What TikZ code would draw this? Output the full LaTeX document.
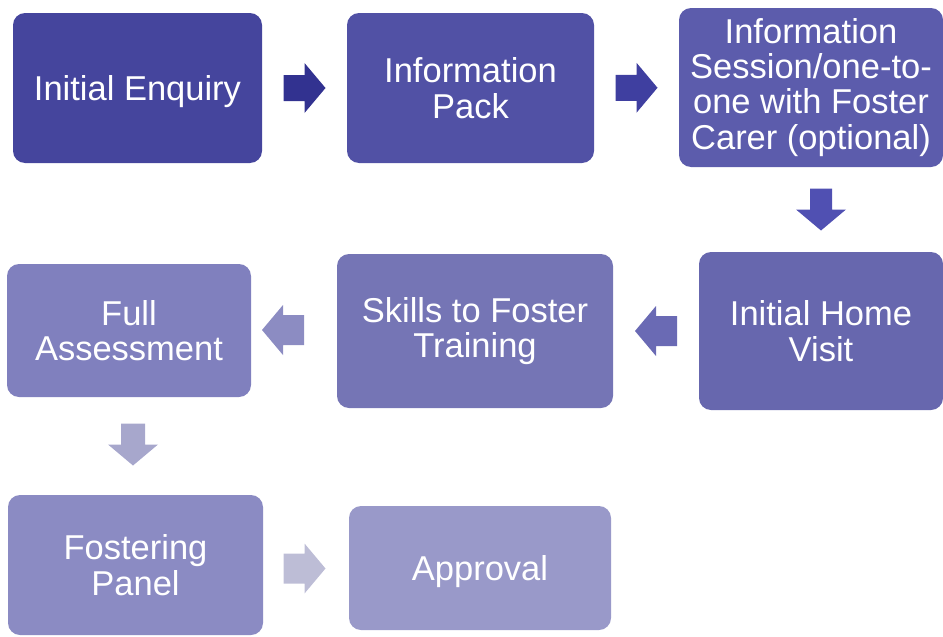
\documentclass[tikz,border=0pt]{standalone}
\usepackage{fontspec}
\setmainfont{Liberation Sans}
\usetikzlibrary{calc}

% box fills, darkest first
\definecolor{cA}{HTML}{45459D}
\definecolor{cB}{HTML}{5151A5}
\definecolor{cC}{HTML}{5C5CAC}
\definecolor{cD}{HTML}{6767AE}
\definecolor{cE}{HTML}{7575B5}
\definecolor{cF}{HTML}{8080BE}
\definecolor{cG}{HTML}{8B8BC3}
\definecolor{cH}{HTML}{9999C9}
% block arrow fills
\definecolor{aA}{HTML}{323290}
\definecolor{aB}{HTML}{3F3FA0}
\definecolor{aC}{HTML}{5050B2}
\definecolor{aD}{HTML}{6A6AB4}
\definecolor{aE}{HTML}{8C8CC2}
\definecolor{aF}{HTML}{A7A7CC}
\definecolor{aG}{HTML}{BDBDD6}

\begin{document}
\begin{tikzpicture}[x=1pt,y=-1pt,
  stage/.style={rectangle, rounded corners=12pt, fill=#1, text=white,
    inner sep=0pt, align=center,
    font=\fontsize{34.5pt}{35.5pt}\selectfont},
  oneline/.style={text depth=0pt},
  % fat arrow: #1 colour, #2 half width of the shaft
  pics/blockarrow/.style 2 args={code={
    \fill[#1] (-21,-#2) -- (0,-#2) -- (0,-25) -- (21,0) -- (0,25)
      -- (0,#2) -- (-21,#2) -- cycle;}}
]
\useasboundingbox (0,0) rectangle (943,637);

% stages
\node[stage=cA, oneline, minimum width=249pt, minimum height=150pt] (enq) at (137.5,88) {Initial Enquiry};
\node[stage=cB, minimum width=247pt, minimum height=150pt] (pack) at (470.5,88) {Information\\Pack};
\node[stage=cC, minimum width=264pt, minimum height=159pt] (sess) at (811,87.5)
  {Information\\[-0.5pt]Session/one-to-\\one with Foster\\Carer (optional)};
\node[stage=cD, minimum width=244pt, minimum height=158pt] (home) at (821,331) {Initial Home\\Visit};
\node[stage=cE, minimum width=276pt, minimum height=154pt] (skills) at (475,331) {Skills to Foster\\Training};
\node[stage=cF, minimum width=244pt, minimum height=133pt] (assess) at (129,330.5) {Full\\Assessment};
\node[stage=cG, minimum width=255pt, minimum height=140pt] (panel) at (135.5,565) {Fostering\\Panel};
\node[stage=cH, oneline, minimum width=262pt, minimum height=124pt] (appr) at (480,568) {Approval};

% arrow positions between the stages
\coordinate (m1) at ($(enq.east)!0.5!(pack.west)$);
\coordinate (m2) at ($(pack.east)!0.5!(sess.west)$);
\coordinate (m3) at ($(sess.south -| home.north)!0.5!(home.north)$);
\coordinate (m4) at ($(home.west)!0.5!(skills.east)$);
\coordinate (m5) at (283,330);
\coordinate (m6) at (133,444.5);
\coordinate (m7) at (304.5,568.5);

\pic at (m1) {blockarrow={aA}{13}};
\pic at (m2) {blockarrow={aB}{13}};
\pic[rotate=-90] at (m3) {blockarrow={aC}{11}};
\pic[rotate=180] at (m4) {blockarrow={aD}{15}};
\pic[rotate=180] at (m5) {blockarrow={aE}{15}};
\pic[rotate=-90] at (m6) {blockarrow={aF}{12}};
\pic at (m7) {blockarrow={aG}{15}};
\end{tikzpicture}
\end{document}
